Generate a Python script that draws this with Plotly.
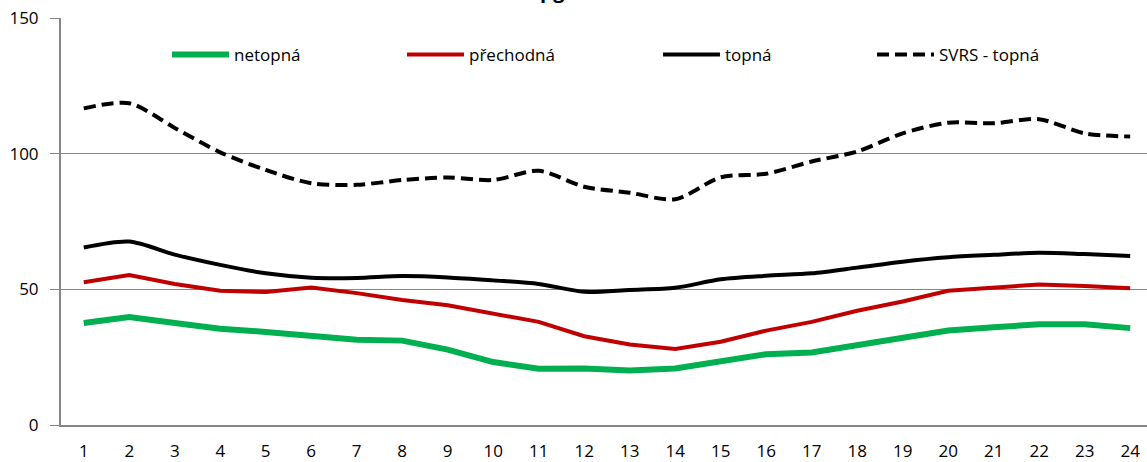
import plotly.graph_objects as go

# Hour of day (1-24)
hours = list(range(1, 25))
hour_labels = [str(h) for h in hours]

# Mean hourly concentrations [µg/m³] per season
netopna = [37.6, 39.8, 37.6, 35.5, 34.3, 32.6, 31.4, 31.1, 27.8, 23.2, 20.7, 20.8,
           20.1, 20.8, 23.7, 26.1, 26.7, 29.5, 31.9, 34.8, 36.0, 37.1, 37.1, 35.7]
prechodna = [52.6, 55.3, 52.0, 49.5, 49.0, 50.7, 48.6, 46.1, 44.1, 41.2, 38.0, 32.7,
             29.7, 28.0, 30.7, 34.8, 38.0, 42.1, 45.5, 49.5, 50.7, 51.8, 51.2, 50.4]
topna = [65.4, 67.6, 62.8, 59.0, 55.9, 54.3, 54.2, 54.9, 54.4, 53.3, 52.0, 49.1,
         49.8, 50.6, 53.7, 55.0, 55.9, 58.0, 60.2, 61.8, 62.7, 63.5, 63.0, 62.3]
svrs_topna = [116.7, 118.6, 109.5, 100.5, 94.0, 89.1, 88.5, 90.3, 91.2, 90.3, 93.7, 87.8,
              85.6, 83.2, 91.3, 92.6, 97.1, 100.8, 107.5, 111.4, 111.2, 112.7, 107.5, 106.3]

y_ticks = [0, 50, 100, 150]

FONT = "Open Sans"
AXIS_GREY = "#868686"

fig = go.Figure()
fig.add_trace(go.Scatter(x=hours, y=netopna, name="netopná", mode="lines",
                         line=dict(color="#00B050", width=6), legend="legend"))
fig.add_trace(go.Scatter(x=hours, y=prechodna, name="přechodná", mode="lines",
                         line=dict(color="#C00000", width=4), legend="legend2"))
fig.add_trace(go.Scatter(x=hours, y=topna, name="topná", mode="lines",
                         line=dict(color="#000000", width=4, shape="spline", smoothing=0.8),
                         legend="legend3"))
fig.add_trace(go.Scatter(x=hours, y=svrs_topna, name="SVRS - topná", mode="lines",
                         line=dict(color="#000000", width=4, dash="12px,6px",
                                   shape="spline", smoothing=0.8),
                         legend="legend4"))

legend_style = dict(orientation="h", yanchor="middle", xanchor="left", y=0.909,
                    bgcolor="rgba(0,0,0,0)", itemwidth=57,
                    font=dict(family=FONT, size=17, color="#000000"))

fig.update_layout(
    width=1147, height=462,
    margin=dict(l=61, r=0, t=18, b=37, pad=0, autoexpand=False),
    plot_bgcolor="white", paper_bgcolor="white",
    font=dict(family=FONT, size=17, color="#000000"),
    showlegend=True,
    legend=dict(x=0.0976, **legend_style),
    legend2=dict(x=0.314, **legend_style),
    legend3=dict(x=0.5497, **legend_style),
    legend4=dict(x=0.7468, **legend_style),
    xaxis=dict(range=[0.5, 24.37], tickmode="array", tickvals=hours, ticktext=hour_labels,
               showgrid=False, zeroline=False, showline=True, linecolor=AXIS_GREY,
               linewidth=2, ticks="", ticklabelstandoff=10, automargin=False,
               tickfont=dict(family=FONT, size=17, color="#000000")),
    yaxis=dict(range=[0, 150], tickmode="array", tickvals=y_ticks,
               ticktext=[str(v) for v in y_ticks],
               showgrid=True, gridcolor=AXIS_GREY, gridwidth=1, zeroline=False,
               showline=True, linecolor=AXIS_GREY, linewidth=2,
               ticks="outside", ticklen=9, tickcolor=AXIS_GREY, tickwidth=1,
               ticklabelstandoff=8, automargin=False,
               tickfont=dict(family=FONT, size=17, color="#000000")),
)

# Chart title (unit), sitting above the plot area
fig.add_annotation(text="<b>µg/m³</b>", xref="paper", yref="paper", x=0.4687, y=1,
                   xanchor="center", yanchor="bottom", yshift=12, showarrow=False,
                   font=dict(family=FONT, size=20, color="#000000"))

fig.write_html("out.html")
